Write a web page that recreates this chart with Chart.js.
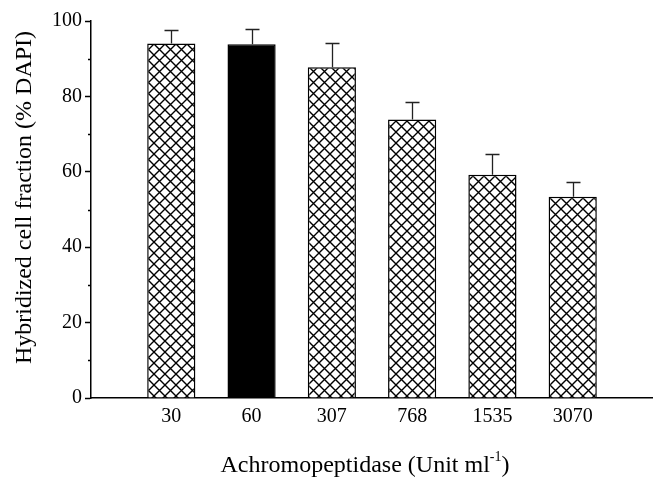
<!DOCTYPE html>
<html>
<head>
<meta charset="utf-8">
<script src="https://cdn.jsdelivr.net/npm/chart.js@4/dist/chart.umd.min.js"></script>
<style>
  html, body { margin: 0; padding: 0; background: #fff; }
  #wrap { width: 653px; height: 482px; }
</style>
</head>
<body>
<div id="wrap"><canvas id="c" width="653" height="482"></canvas></div>
<script>
// ---- data ----
const categories = ['30', '60', '307', '768', '1535', '3070'];
const values = [94.0, 93.8, 87.7, 73.9, 59.2, 53.4];
const errors = [3.5, 4.1, 6.4, 4.5, 5.4, 3.8];
const solidIndex = 1; // the 60 U/ml bar is solid black
const yTickValues = [0, 20, 40, 60, 80, 100];
const yMinorTickValues = [10, 30, 50, 70, 90];
const xTitleMain = 'Achromopeptidase (Unit ml';
const xTitleSup = '-1';
const xTitleEnd = ')';
const yTitle = 'Hybridized cell fraction (% DAPI)';

// ---- crosshatch pattern ----
function makeHatch() {
  const s = 11;
  const t = document.createElement('canvas');
  t.width = s; t.height = s;
  const g = t.getContext('2d');
  g.fillStyle = '#fff';
  g.fillRect(0, 0, s, s);
  g.strokeStyle = '#000';
  g.lineWidth = 1.4;
  g.beginPath();
  g.moveTo(-1, -1); g.lineTo(s + 1, s + 1);
  g.moveTo(s + 1, -1); g.lineTo(-1, s + 1);
  g.stroke();
  return g.createPattern(t, 'repeat');
}
const ctx = document.getElementById('c').getContext('2d');
const hatch = makeHatch();

const labels = [''].concat(categories, ['']);
const data = [null].concat(values, [null]);
const fills = [null].concat(categories.map((c, i) => i === solidIndex ? '#000' : hatch), [null]);

const SERIF = '"Liberation Serif", "Times New Roman", serif';

const extrasPlugin = {
  id: 'extras',
  afterDatasetsDraw(chart) {
    const c = chart.ctx;
    const y = chart.scales.y;
    const meta = chart.getDatasetMeta(0);
    c.save();
    // error bars (upper only)
    c.strokeStyle = '#222';
    c.lineWidth = 1.3;
    values.forEach((v, i) => {
      const el = meta.data[i + 1];
      const x = Math.round(el.x) + 0.5;
      const yb = y.getPixelForValue(v);
      const yt = Math.round(y.getPixelForValue(v + errors[i])) + 0.5;
      c.beginPath();
      c.moveTo(x, yb);
      c.lineTo(x, yt);
      c.moveTo(x - 7, yt);
      c.lineTo(x + 7, yt);
      c.stroke();
    });
    // minor ticks on y axis
    c.strokeStyle = '#000';
    c.lineWidth = 1.5;
    yMinorTickValues.forEach(v => {
      const py = Math.round(y.getPixelForValue(v)) + 0.5;
      c.beginPath();
      c.moveTo(y.right - 3, py);
      c.lineTo(y.right, py);
      c.stroke();
    });
    c.restore();
  },
  afterDraw(chart) {
    const c = chart.ctx;
    c.save();
    c.fillStyle = '#000';
    // x title with superscript
    const mainFont = '24px ' + SERIF;
    const supFont = '14px ' + SERIF;
    c.font = mainFont;
    const w1 = c.measureText(xTitleMain).width;
    const w3 = c.measureText(xTitleEnd).width;
    c.font = supFont;
    const w2 = c.measureText(xTitleSup).width;
    const total = w1 + w2 + w3;
    const cx = 365;
    const x0 = cx - total / 2;
    const base = 472;
    c.textBaseline = 'alphabetic';
    c.textAlign = 'left';
    c.font = mainFont;
    c.fillText(xTitleMain, x0, base);
    c.font = supFont;
    c.fillText(xTitleSup, x0 + w1, base - 11);
    c.font = mainFont;
    c.fillText(xTitleEnd, x0 + w1 + w2, base);
    // y title
    c.translate(31, 197.5);
    c.rotate(-Math.PI / 2);
    c.font = '24px ' + SERIF;
    c.textAlign = 'center';
    c.fillText(yTitle, 0, 0);
    c.restore();
  }
};

new Chart(ctx, {
  type: 'bar',
  data: {
    labels: labels,
    datasets: [{
      data: data,
      backgroundColor: fills,
      borderColor: '#000',
      borderWidth: 1.5,
      borderSkipped: 'bottom',
      categoryPercentage: 1.0,
      barPercentage: 0.6
    }]
  },
  options: {
    responsive: false,
    animation: false,
    devicePixelRatio: 1,
    layout: { padding: { top: 21, left: 0, right: 0, bottom: 0 } },
    plugins: { legend: { display: false }, tooltip: { enabled: false } },
    scales: {
      x: {
        type: 'category',
        offset: false,
        grid: { drawOnChartArea: false, drawTicks: false },
        border: { color: '#000', width: 1.5 },
        ticks: {
          autoSkip: false, maxRotation: 0, minRotation: 0,
          padding: 7, color: '#000',
          font: { family: SERIF, size: 20 }
        },
        afterFit(s) { s.height = 84; s.paddingLeft = 0; s.paddingRight = 0; }
      },
      y: {
        min: 0, max: 100,
        afterBuildTicks(s) { s.ticks = yTickValues.map(v => ({ value: v })); },
        grid: { drawOnChartArea: false, drawTicks: true, tickLength: 6, tickColor: '#000', tickWidth: 1.5 },
        border: { color: '#000', width: 1.5 },
        ticks: {
          padding: 3, color: '#000',
          font: { family: SERIF, size: 20 }
        },
        afterFit(s) { s.width = 91; }
      }
    }
  },
  plugins: [extrasPlugin]
});
</script>
</body>
</html>
